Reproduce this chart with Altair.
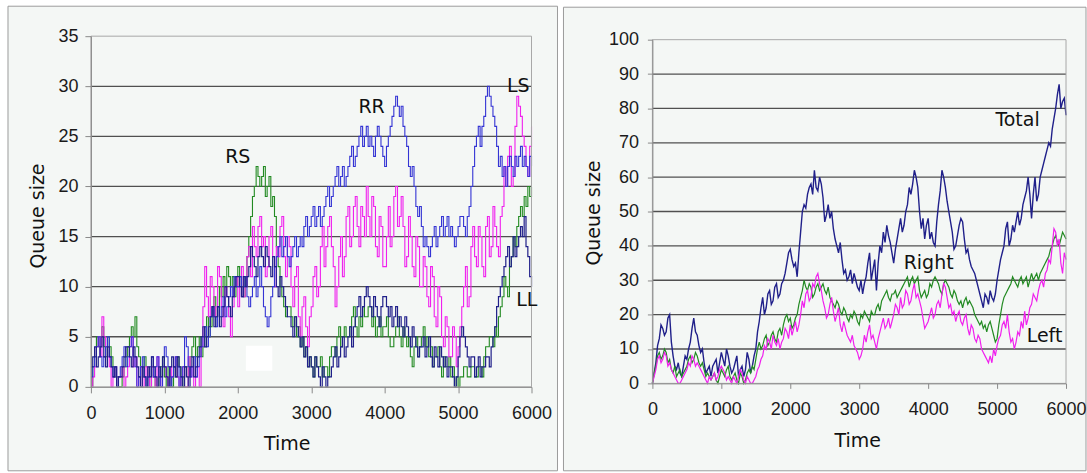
import altair as alt
import pandas as pd

# ---------------- data ----------------
T = list(range(0, 6001, 25))  # 241 time points

# Left panel: four queues (step lines)
RS = [0,2,3,5,4,5,6,4,3,5,4,3,2,1,1,0,0,1,2,3,
      4,5,6,5,7,4,3,2,1,3,2,1,0,2,1,0,0,1,2,3,
      1,0,2,1,0,2,1,3,2,0,1,2,2,1,3,4,5,3,4,5,
      3,4,6,7,5,6,8,9,7,8,10,9,11,10,12,11,10,11,9,10,
      12,11,10,9,11,13,15,17,19,20,22,21,20,21,22,19,20,21,18,19,
      17,14,12,10,9,8,7,8,8,7,6,7,5,6,4,5,3,4,2,3,
      2,1,3,2,2,3,1,2,2,1,3,4,4,3,5,6,4,5,6,5,
      5,6,7,8,6,5,7,6,8,7,7,8,8,6,7,5,6,7,5,6,
      6,7,5,4,4,5,6,7,5,4,6,5,4,5,3,2,4,5,3,4,
      5,6,4,5,3,4,2,3,3,4,2,1,3,2,2,3,1,2,0,1,
      0,1,1,2,2,1,1,2,2,1,1,2,2,1,3,4,4,5,5,4,
      6,5,7,8,9,11,10,9,12,13,15,14,16,17,18,17,19,18,20,19,
      20]
RR = [1,2,3,4,5,3,2,3,4,5,3,2,1,2,0,1,2,3,4,2,
      3,4,5,3,2,0,1,2,3,1,0,1,2,3,1,2,3,1,0,2,
      4,3,2,0,1,2,3,2,0,1,2,5,4,2,1,2,3,1,2,3,
      4,5,6,4,5,7,8,7,6,8,7,8,9,7,8,9,10,9,11,10,
      10,11,9,10,11,9,8,9,10,11,9,10,12,10,8,7,6,7,9,10,
      12,13,14,15,13,14,15,13,12,13,14,15,13,14,15,14,16,17,15,16,
      17,18,16,17,18,16,17,18,19,20,18,19,20,21,22,20,21,22,20,21,
      22,23,24,22,23,24,25,26,24,25,26,24,25,24,23,25,26,25,24,23,
      22,24,25,26,27,28,29,28,27,28,26,25,24,22,21,22,20,18,17,18,
      16,14,15,14,13,14,15,16,14,15,16,17,15,16,17,15,16,15,14,15,
      16,17,17,16,15,17,18,20,22,24,25,26,24,26,27,29,30,29,28,27,
      26,24,22,23,21,22,20,22,23,22,21,23,22,23,24,22,23,22,21,23,
      22]
LS = [0,1,2,4,5,3,7,5,4,3,2,0,1,2,0,1,1,2,0,1,
      2,4,5,2,3,0,1,2,0,1,2,1,0,2,1,0,3,1,0,2,
      2,1,0,2,1,2,3,1,0,1,2,0,0,3,1,2,0,1,2,0,
      4,8,12,9,7,11,10,7,8,12,11,8,6,10,9,7,5,8,10,11,
      8,10,12,9,10,13,14,11,16,14,13,16,17,14,15,11,12,15,16,13,
      10,14,13,16,17,13,11,15,14,10,8,11,12,7,5,8,9,6,4,7,
      8,11,12,9,10,14,16,12,14,16,17,14,12,8,10,13,15,11,13,17,
      18,14,15,18,19,16,14,18,17,15,20,17,15,19,18,14,13,17,16,12,
      12,15,18,14,15,19,20,16,17,19,16,12,13,17,15,12,11,15,14,10,
      10,13,12,9,8,12,11,7,6,10,9,5,4,7,6,3,3,6,5,2,
      4,6,8,10,12,8,9,14,16,13,12,16,15,12,11,16,17,13,14,18,
      16,14,13,17,18,22,20,23,24,20,21,26,29,28,27,25,24,22,21,24,
      26]
LL = [2,3,4,2,3,4,5,3,2,4,3,2,1,2,0,1,1,2,3,4,
      4,3,2,4,3,2,1,0,2,1,0,2,1,3,2,1,0,2,1,3,
      2,1,0,2,3,2,1,3,2,1,0,2,1,0,2,3,1,2,3,4,
      5,6,4,5,6,7,8,6,7,8,6,7,8,10,9,8,7,9,10,11,
      11,10,9,11,10,11,12,14,13,12,11,13,14,13,12,14,13,12,11,13,
      12,10,9,11,10,9,8,7,7,6,5,7,6,5,4,5,3,4,2,3,
      2,1,3,2,1,0,2,1,0,1,1,2,3,4,2,3,4,5,3,4,
      5,6,4,6,7,8,9,7,8,9,10,9,8,7,9,8,7,6,8,9,
      9,8,7,8,6,7,8,6,7,6,5,7,6,5,4,6,5,4,3,4,
      4,5,3,4,5,3,2,4,3,2,4,3,2,3,1,2,2,1,0,1,
      3,5,6,5,4,3,2,3,3,1,2,3,1,2,2,3,3,2,4,5,
      6,8,9,10,11,12,13,14,12,13,15,13,14,15,16,15,17,14,13,11,
      10]

# Right panel: Total, Right, Left
TOTAL = [0,3,6,11,13,17,16,14,15,19,20,12,8,5,4,6,3,2,5,8,
         7,10,12,16,19,15,14,11,9,10,6,3,4,5,2,5,6,7,3,6,
         9,7,5,10,8,5,3,4,6,8,2,4,5,2,4,9,7,3,5,8,
         10,15,18,22,25,20,22,26,27,23,24,28,29,25,26,29,30,32,35,38,
         39,36,34,35,31,38,44,50,52,51,55,57,58,55,62,57,56,60,58,54,
         47,49,52,48,50,45,42,40,38,41,36,32,33,30,31,33,29,32,30,28,
         27,30,26,29,31,35,38,30,33,36,27,35,40,38,44,41,46,43,41,38,
         35,39,42,45,48,44,46,50,52,57,55,58,62,60,57,50,45,48,42,46,
         48,42,44,41,40,47,52,56,62,60,57,53,50,47,44,39,40,43,46,48,
         47,42,38,39,36,34,33,32,30,28,26,24,22,26,25,23,27,25,24,26,
         30,33,36,38,40,45,47,40,42,46,44,47,50,46,48,52,54,56,60,55,
         48,55,60,53,55,60,62,64,66,68,70,69,74,77,80,84,87,80,82,83,
         78]
RIGHT = [0,3,5,8,9,7,8,10,9,6,7,4,3,5,2,3,4,2,3,4,
         5,7,8,6,7,9,8,6,5,6,4,2,3,2,1,2,3,1,0,2,
         4,3,2,4,5,2,1,2,3,1,0,3,2,0,1,3,4,3,5,4,
         7,10,12,10,11,13,14,11,12,14,15,13,12,15,16,14,17,19,20,18,
         19,16,17,19,20,23,25,27,30,28,27,29,28,25,26,28,29,27,28,29,
         27,26,28,25,24,23,22,24,23,21,20,22,21,19,18,20,19,21,20,18,
         17,20,19,21,20,19,18,21,20,20,22,23,21,24,25,26,27,25,24,26,
         26,27,25,26,27,28,29,30,31,28,30,31,29,30,31,27,25,26,27,25,
         26,29,28,30,31,30,29,27,26,29,30,29,28,26,25,27,26,24,23,24,
         22,24,25,23,24,23,22,20,19,18,17,18,16,17,15,17,18,16,14,12,
         13,17,20,23,25,26,27,28,29,31,30,29,28,30,31,29,30,31,28,30,
         32,30,31,32,30,32,33,34,35,36,37,39,40,42,43,41,40,42,44,43,
         42]
LEFT = [0,2,4,7,8,6,7,9,8,5,6,4,3,2,1,0,0,1,2,3,
        4,6,5,8,7,5,6,5,4,3,2,1,0,2,1,2,3,1,2,4,
        5,4,3,1,2,1,0,2,1,0,2,4,3,1,0,2,1,0,0,1,
        2,4,5,7,8,11,10,13,12,10,14,12,11,13,10,12,13,16,15,13,
        17,14,16,18,15,17,20,24,22,26,27,24,25,29,28,31,32,29,27,24,
        22,19,20,23,25,21,18,20,22,17,15,18,16,14,13,12,14,11,10,9,
        7,8,10,14,12,15,17,13,14,12,10,13,15,17,19,16,17,19,16,18,
        20,23,22,20,25,22,23,27,26,23,24,27,29,25,26,24,22,19,16,17,
        18,20,22,19,20,23,24,22,26,29,28,25,22,23,20,21,18,20,21,18,
        17,19,20,16,14,17,16,13,12,14,13,10,9,8,7,6,8,6,10,8,
        11,13,14,17,18,16,20,15,12,13,10,12,15,14,18,16,21,17,19,22,
        23,26,25,24,27,29,30,28,32,33,36,35,40,45,44,40,42,35,32,38,
        36]

LEFT_TICKS_Y = [0, 5, 10, 15, 20, 25, 30, 35]
LEFT_GRID = [5, 10, 15, 20, 25, 30]
RIGHT_TICKS_Y = [0, 10, 20, 30, 40, 50, 60, 70, 80, 90, 100]
RIGHT_GRID = [10, 20, 30, 40, 50, 60, 70, 80, 90]
X_TICKS = [0, 1000, 2000, 3000, 4000, 5000, 6000]

LEFT_LABELS = ["RS", "RR", "LS", "LL"]
LEFT_LAB_T = [2000, 3822, 5820, 5935]
LEFT_LAB_V = [22.9, 27.9, 30.0, 8.7]
RIGHT_LABELS = ["Total", "Right", "Left"]
RIGHT_LAB_T = [5297, 4007, 5688]
RIGHT_LAB_V = [76.5, 34.9, 13.7]

# ---------------- styling ----------------
NAVY = "#20208a"
BLUE = "#3434d4"
MAG = "#f020ee"
GREEN = "#228a22"
GRID = "#505050"
AXC = "#8a8a8a"
PANEL = "#f4f7f5"
TICKFONT = "Liberation Sans"
TITLEFONT = "DejaVu Sans"


def xenc(w, tsize, tx, ty):
    return alt.X("t:Q", scale=alt.Scale(domain=[0, 6000], nice=False, zero=False),
                 axis=alt.Axis(values=X_TICKS, grid=False, title="Time", format="d", zindex=2,
                               labelFont=TICKFONT, labelFontSize=18, labelColor="#1a1a1a",
                               labelFlush=False, labelOverlap=False, labelPadding=12,
                               domainColor=AXC, tickColor=AXC, tickSize=tsize,
                               titleFont=TITLEFONT, titleFontSize=19, titleFontWeight="normal",
                               titleColor="#111111", titleX=tx, titleY=ty,
                               titleBaseline="middle", titleAlign="center"))


def yenc(dmax, ticks, tsize, lpad, tx, ty):
    return alt.Y("v:Q", scale=alt.Scale(domain=[0, dmax], nice=False, zero=True),
                 axis=alt.Axis(values=ticks, grid=False, title="Queue size", format="d", zindex=2,
                               labelFont=TICKFONT, labelFontSize=18, labelColor="#1a1a1a",
                               labelOverlap=False, labelPadding=lpad,
                               domainColor=AXC, tickColor=AXC, tickSize=tsize,
                               titleFont=TITLEFONT, titleFontSize=19, titleFontWeight="normal",
                               titleColor="#111111", titleX=tx, titleY=ty, titleAngle=270,
                               titleBaseline="middle", titleAlign="center"))


def panel(series, colors, interp, grid, ticks, dmax, W, H, labels, lab_t, lab_v,
          frame, xaxis, yaxis, artifact=None, widths=None):
    X = xenc(W, *xaxis)
    Y = yenc(dmax, ticks, *yaxis)
    one = alt.Data(values=[{"a": 1}])
    layers = []
    # outer frame (panel background)
    layers.append(alt.Chart(one).mark_rect(fill=PANEL, stroke="#9c9c9c", strokeWidth=1).encode(
        x=alt.value(frame[0]), x2=alt.value(frame[1]), y=alt.value(frame[2]), y2=alt.value(frame[3])))
    # grid lines
    gdf = pd.DataFrame({"v": grid})
    layers.append(alt.Chart(gdf).mark_rule(color=GRID, strokeWidth=1.3).encode(y=Y))
    # series
    if widths is None:
        widths = [1.0] * len(series)
    for vals, col, sw in zip(series, colors, widths):
        df = pd.DataFrame({"t": T, "v": vals})
        layers.append(alt.Chart(df).mark_line(color=col, strokeWidth=sw, interpolate=interp,
                                              strokeJoin="miter").encode(x=X, y=Y))
    if artifact is not None:
        adf = pd.DataFrame({"t": [artifact[0]], "t2": [artifact[1]],
                            "v": [artifact[2]], "v2": [artifact[3]]})
        layers.append(alt.Chart(adf).mark_rect(fill="white").encode(x=X, x2="t2:Q", y=Y, y2="v2:Q"))
    # plot-area border
    layers.append(alt.Chart(one).mark_rect(fill=None, stroke="#a8a8a8", strokeWidth=1).encode(
        x=alt.value(0), x2=alt.value(W), y=alt.value(0), y2=alt.value(H)))
    # labels
    ldf = pd.DataFrame({"t": lab_t, "v": lab_v, "lab": labels})
    layers.append(alt.Chart(ldf).mark_text(font=TITLEFONT, fontSize=19, color="#111111",
                                           align="center", baseline="middle").encode(
        x=X, y=Y, text="lab:N"))
    return alt.layer(*layers).properties(width=W, height=H)


left = panel([RS, LS, RR, LL], [GREEN, MAG, BLUE, NAVY], "step-after", LEFT_GRID,
             LEFT_TICKS_Y, 35, 441, 351, LEFT_LABELS, LEFT_LAB_T, LEFT_LAB_V,
             frame=(-83, 467, -30, 435), xaxis=(6, 196, 57), yaxis=(6, 7, -53, 179.5),
             artifact=(2110, 2470, 4.1, 1.6), widths=[1.1, 1.1, 1.1, 1.2])
right = panel([TOTAL, RIGHT, LEFT], [NAVY, GREEN, MAG], "linear", RIGHT_GRID,
              RIGHT_TICKS_Y, 100, 414, 344, RIGHT_LABELS, RIGHT_LAB_T, RIGHT_LAB_V,
              frame=(-89, 434, -32.5, 431.5), xaxis=(5, 205, 57.5), yaxis=(5, 9, -59, 173),
              widths=[1.4, 1.2, 1.2])

chart = alt.hconcat(left, right, spacing=121, bounds="flush", center=True).properties(
    padding={"left": 7, "top": 5, "right": 0, "bottom": 0},
    background="white",
).configure_view(stroke=None)

chart.save("out.html", embed_options={"renderer": "svg", "actions": False})
